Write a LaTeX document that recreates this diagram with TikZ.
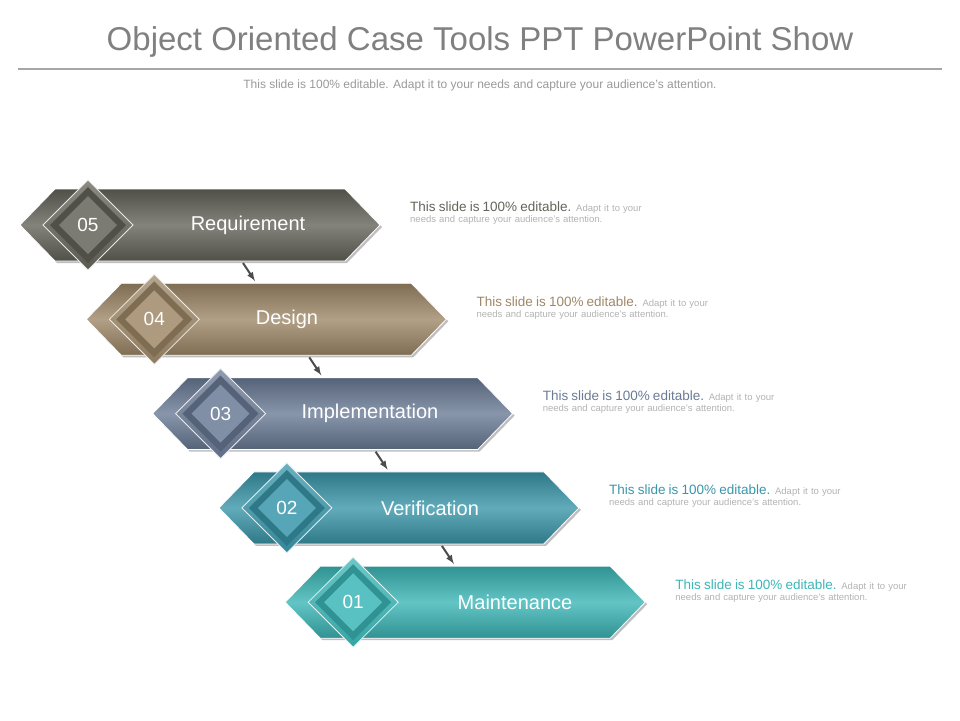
\documentclass[tikz,border=0pt]{standalone}
\usepackage{fontspec}
\setmainfont{Liberation Sans}
\begin{document}
\begin{tikzpicture}[x=1pt,y=-1pt,
  desc/.style={anchor=north west,text width=255pt,align=left,inner sep=0pt,font=\fontsize{9.5}{11}\selectfont,text=black!30},
  lbl/.style={text=white,font=\fontsize{20}{24}\selectfont},
  num/.style={text=white,font=\fontsize{19}{22}\selectfont},
  conn/.style={-latex,line width=2pt,draw=black!70}]
\useasboundingbox (0,0) rectangle (960,720);
\node[text=black!50,font=\fontsize{33}{38}\selectfont] (title) at (480,42) {Object Oriented Case Tools PPT PowerPoint Show};
\draw[black!35,line width=2pt] (18,69) -- (942,69);
\node[text=black!40,font=\fontsize{12}{14}\selectfont] (sub) at (480,85) {This slide is 100\% editable. Adapt it to your needs and capture your audience's attention.};
\foreach \i/\n/\t/\c/\lx in {0/05/Requirement/{100,100,90}/248, 1/04/Design/{158,136,104}/287, 2/03/Implementation/{106,123,150}/370, 3/02/Verification/{58,150,170}/430, 4/01/Maintenance/{60,182,182}/515}{
  \definecolor{cc}{RGB}{\c}
  \pgfmathsetmacro{\dx}{66.3*\i+20}
  \pgfmathsetmacro{\cy}{225+94.3*\i}
  \begin{scope}[shift={(\dx,\cy)}]
    \fill[black!25] (2,2) -- (37,-34) -- (327,-34) -- (362,2) -- (327,38) -- (37,38) -- cycle;
    \shade[top color=cc!80!black,bottom color=cc!80!black,middle color=cc!80!white,draw=white,line width=0.8pt] (0,0) -- (35,-36) -- (325,-36) -- (360,0) -- (325,36) -- (35,36) -- cycle;
    \shade[top color=cc!75!white,bottom color=cc!90!black,draw=white!85!cc,line width=0.8pt] (68,-45) -- (113,0) -- (68,45) -- (23,0) -- cycle;
    \fill[cc!80!black] (68,-38) -- (106,0) -- (68,38) -- (30,0) -- cycle;
    \fill[cc!85!white] (68,-29) -- (97,0) -- (68,29) -- (39,0) -- cycle;
    \node[num] (n\i) at (68,0) {\n};
    \node[lbl] (l\i) at (\lx-\dx,0) {\t};
    \node[desc] (d\i) at (390,-23) {{\color{cc}\fontsize{13.5}{14}\selectfont This slide is 100\% editable.} Adapt it to your needs and capture your audience's attention.};
    \coordinate (a\i) at (223,38);
    \coordinate (b\i) at (235,56);
  \end{scope}
}
\foreach \i in {0,1,2,3}{\draw[conn] (a\i) -- (b\i);}
\end{tikzpicture}
\end{document}
